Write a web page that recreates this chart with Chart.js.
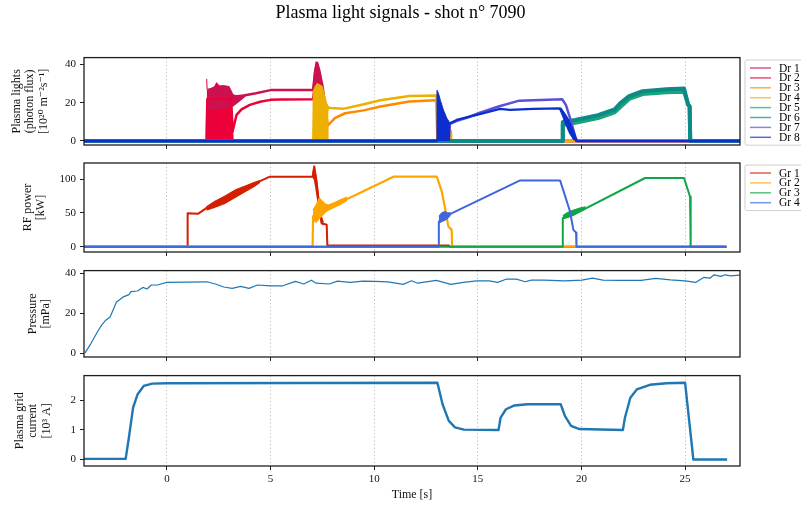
<!DOCTYPE html>
<html>
<head>
<meta charset="utf-8">
<style>
  body { margin: 0; background: #fff; }
  #wrap { position: relative; width: 801px; height: 509px; overflow: hidden; background: #fff; }
  #wrap canvas { position: absolute; left: 0; }
</style>
</head>
<body>
<div id="wrap">
  <canvas id="lightChart" width="801" height="160" style="top:0px"></canvas>
  <canvas id="rfChart" width="801" height="117" style="top:150px"></canvas>
  <canvas id="pressureChart" width="801" height="112" style="top:260px"></canvas>
  <canvas id="currentChart" width="801" height="144" style="top:365px"></canvas>
</div>
<script src="https://cdn.jsdelivr.net/npm/chart.js"></script>
<script>
// ---- axes ----
const xMin = -4.0, xMax = 27.65;
const xTicks = [0, 5, 10, 15, 20, 25];
const lightTicks = [0, 20, 40];
const rfTicks = [0, 50, 100];
const pressureTicks = [0, 20, 40];
const currentTicks = [0, 1, 2];

const drLabels = ['Dr 1', 'Dr 2', 'Dr 3', 'Dr 4', 'Dr 5', 'Dr 6', 'Dr 7', 'Dr 8'];
const drColors = ['#cc1150', '#eb0038', '#ff8800', '#ebb000', '#15a679', '#0d8a87', '#5d4fd9', '#0b2fcf'];
const grLabels = ['Gr 1', 'Gr 2', 'Gr 3', 'Gr 4'];
const grColors = ['#d41f00', '#ffa500', '#0fa645', '#4066dc'];
const blue = '#1f77b4';

// ---- plasma lights (time s, flux) ----
const dr1T = [-4.0, 1.92, 1.95, 2.4, 2.8, 3.1, 3.3, 3.7, 4.3, 5.0, 7.05, 7.15, 7.25, 7.35, 7.5, 7.65, 7.7, 27.65];
const dr1V = [0, 0, 20, 24, 25, 24, 23.3, 23.8, 25, 26.6, 26.6, 36, 40.8, 37, 29, 18, 0, 0];
const dr1BandT = [1.95, 2.3, 2.7, 3.0, 3.2, 3.5, 3.8];
const dr1BandLo = [16, 16.5, 17, 17.5, 18, 20.5, 23.3];
const dr1BandHi = [27, 28, 29, 28.5, 24, 23.6, 24];
const dr1SpikeT = [7.05, 7.12, 7.2, 7.28, 7.36, 7.45];
const dr1SpikeLo = [24, 27, 30, 30, 25, 22];
const dr1SpikeHi = [27, 37, 41.5, 40, 34, 28];

const dr2T = [-4.0, 1.92, 1.95, 3.1, 3.17, 3.36, 3.6, 4.0, 4.5, 5.0, 5.5, 7.05, 7.15, 7.3, 7.45, 7.6, 7.7, 27.65];
const dr2V = [0, 0, 22, 22, 5, 13.7, 16.5, 18.9, 20.5, 21.5, 21.7, 21.8, 30, 33, 25, 12, 0, 0];
const dr2BandT = [1.92, 1.94, 2.0, 2.15, 2.3, 2.4, 2.5, 2.65, 2.8, 2.95, 3.05, 3.1, 3.15, 3.2];
const dr2BandHi = [32.5, 27, 26, 27.5, 28.5, 30.5, 29, 28.5, 28, 27.5, 25, 20, 12, 0];

const dr3T = [-4.0, 7.05, 7.75, 7.8, 8.1, 8.6, 9.5, 10.3, 11.7, 13.0, 13.05, 27.65];
const dr3V = [0, 0, 8, 8.5, 12, 14.5, 16, 18, 20.6, 21.3, 0, 0];
const dr3BandT = [7.05, 7.08, 7.2, 7.4, 7.6, 7.75, 7.8];
const dr3BandHi = [0, 20, 23, 24, 20, 12, 8];

const dr4T = [-4.0, 7.03, 7.8, 7.9, 8.5, 9.5, 10.3, 11.7, 13.0, 13.08, 13.5, 13.7, 13.72, 27.65];
const dr4V = [0, 0, 17.5, 17.3, 16.8, 19.2, 21.3, 23.5, 23.8, 8, 5.5, 5.2, 0, 0];
const dr4BandT = [7.03, 7.06, 7.15, 7.25, 7.35, 7.5, 7.6, 7.7, 7.8];
const dr4BandHi = [0, 26, 28.5, 30, 29.5, 28.5, 24, 20, 17.5];

const dr5T = [-4.0, 19.07, 19.1, 19.7, 20.8, 21.6, 21.9, 22.3, 22.95, 24.1, 24.95, 25.15, 25.22, 25.25, 27.65];
const dr5V = [0, 0, 8.5, 9.5, 12, 15, 18, 22, 24.5, 25.5, 25.8, 19, 18, 0, 0];
const dr6T = [-4.0, 19.07, 19.1, 19.7, 20.8, 21.6, 21.9, 22.3, 22.95, 24.1, 24.95, 25.15, 25.22, 25.25, 27.65];
const dr6V = [0, 0, 10, 11, 13.5, 16.5, 20, 23.5, 26, 27, 27.4, 19, 18, 0, 0];

const dr7T = [-4.0, 13.6, 13.66, 14.0, 14.5, 15.1, 16.0, 17.0, 19.07, 19.25, 19.5, 19.72, 19.8, 27.65];
const dr7V = [0, 0, 9, 10.5, 12.3, 14.8, 18, 21.1, 21.8, 18.9, 10.2, 1.6, 0, 0];

const dr8T = [-4.0, 13.0, 13.66, 13.98, 14.95, 16.07, 16.55, 17.67, 18.95, 19.27, 19.59, 19.75, 27.65];
const dr8V = [0, 0, 9.3, 11, 13.7, 16.8, 16.3, 16.8, 17.1, 10.2, 3.3, 0, 0];
const dr8BandT = [13.0, 13.03, 13.1, 13.2, 13.35, 13.5, 13.66];
const dr8BandHi = [0, 26.5, 25, 21, 16, 12, 9.3];
const dr8FallT = [19.0, 19.2, 19.4, 19.6, 19.8];
const dr8FallLo = [15, 9, 4, 0.5, 0];
const dr8FallHi = [17.5, 14.5, 11, 6, 0];

// ---- RF power (kW) ----
const gr1T = [-4.0, 0.98, 1.0, 1.5, 1.9, 2.56, 3.52, 4.17, 4.97, 7.03, 7.11, 7.22, 7.35, 7.46, 7.71, 7.74, 13.6, 13.65, 27.0];
const gr1V = [0, 0, 49.5, 48.5, 57, 66.8, 84, 92.5, 103.5, 103.5, 118.7, 96.4, 57, 34.7, 32.5, 1.8, 1.8, 0, 0];
const gr1BandT = [1.9, 2.3, 2.8, 3.3, 3.8, 4.2, 4.5];
const gr1BandLo = [53, 57, 63, 72, 81, 88, 94];
const gr1BandHi = [59, 67, 75, 84, 90, 95, 98];
const gr1SpikeT = [7.03, 7.08, 7.15, 7.25, 7.35, 7.45, 7.55];
const gr1SpikeLo = [100, 100, 88, 68, 48, 34, 31];
const gr1SpikeHi = [104, 117, 112, 92, 68, 45, 36];

const gr2T = [-4.0, 7.03, 7.05, 7.8, 10.93, 13.02, 13.26, 13.42, 13.58, 13.74, 13.76, 27.0];
const gr2V = [0, 0, 45, 57, 103.5, 103.5, 81.6, 57, 29.7, 24.8, 0, 0];
const gr2BandT = [7.05, 7.2, 7.35, 7.5, 7.65, 7.8, 8.1, 8.4, 8.7];
const gr2BandLo = [38, 35, 40, 45, 50, 53, 57.5, 62, 67.5];
const gr2BandHi = [55, 62, 72, 68, 63, 62, 65.5, 70, 73.5];

const gr3T = [-4.0, 19.08, 19.1, 19.6, 23.07, 24.95, 25.24, 25.27, 27.0];
const gr3V = [0, 0, 42, 47, 101.5, 101.5, 74, 0, 0];
const gr3BandT = [19.1, 19.3, 19.5, 19.7, 19.9, 20.2];
const gr3BandLo = [40, 42, 44, 47, 50, 55];
const gr3BandHi = [46, 50, 53, 55, 57, 59];

const gr4T = [-4.0, 13.1, 13.12, 13.58, 17.04, 18.97, 19.45, 19.61, 19.74, 19.76, 27.0];
const gr4V = [0, 0, 37, 47, 98, 98, 52, 24.8, 21, 0, 0];
const gr4BandT = [13.12, 13.25, 13.4, 13.55, 13.7];
const gr4BandLo = [34, 36, 38, 41, 46];
const gr4BandHi = [45, 50, 52, 50, 50];

// ---- pressure (mPa) ----
const pressT = [-3.96, -3.66, -3.35, -3.15, -2.95, -2.74, -2.44, -2.13, -1.83, -1.73, -1.42, -1.16, -0.96, -0.75, -0.41, 0, 1.93, 2.34, 2.74, 3.15, 3.56, 3.96, 4.37, 4.98, 5.59, 6.2, 6.6, 6.97, 7.2, 7.83, 8.23, 8.84, 9.45, 10.06, 10.67, 11.4, 11.8, 12.1, 13.0, 13.7, 14.3, 14.94, 15.55, 15.96, 16.36, 16.87, 17.28, 17.58, 18.19, 19.2, 20.02, 20.53, 21.04, 21.85, 22.87, 23.58, 24.3, 25.0, 25.51, 25.9, 26.2, 26.4, 26.73, 26.93, 27.2, 27.65];
const pressV = [0, 4.9, 10.7, 14, 16.5, 18.1, 25.5, 28, 29.3, 30.8, 31.1, 32.9, 32.1, 34.1, 34.2, 35.4, 35.7, 34.6, 33.1, 32.4, 33.4, 32.4, 34.1, 33.7, 33.7, 35.9, 34.6, 36.5, 35, 34.6, 36, 35.4, 36, 35.9, 35.7, 34.4, 36.2, 35, 36.4, 34.4, 35.4, 36.2, 36.2, 35.4, 37, 37, 35.7, 36.5, 36.5, 36.2, 36.5, 37.5, 36.5, 36.4, 36.4, 37.4, 36.7, 36.2, 35.4, 37.9, 37.5, 39.2, 38.4, 39.2, 38.7, 39];

// ---- plasma grid current (10^3 A) ----
const currT = [-4.0, -1.99, -1.83, -1.63, -1.42, -1.12, -0.71, 0, 13.05, 13.3, 13.6, 13.9, 14.33, 16.0, 16.1, 16.36, 16.77, 17.4, 19.0, 19.2, 19.5, 19.9, 22.0, 22.1, 22.36, 22.67, 23.3, 24.1, 25.0, 25.4, 27.03];
const currV = [0.02, 0.02, 0.76, 1.76, 2.2, 2.49, 2.57, 2.58, 2.6, 1.87, 1.31, 1.09, 1.01, 1.0, 1.42, 1.7, 1.83, 1.87, 1.87, 1.48, 1.14, 1.03, 1.0, 1.42, 2.09, 2.37, 2.53, 2.58, 2.6, 0, 0];

const serif = "'Liberation Serif', 'DejaVu Serif', serif";
const tickFont = {family: serif, size: 11};
const labelFont = {family: serif, size: 12, lineHeight: 1.12};

function pts(t, v) {
    return t.map((x, i) => ({x: x, y: v[i]}));
}

// lower order = drawn on top
function line(color, t, v, width, order) {
    return {data: pts(t, v), borderColor: color, backgroundColor: color, borderWidth: width,
        pointRadius: 0, tension: 0, fill: false, order: order, borderJoinStyle: 'round'};
}

function bandFromZero(color, t, hi, order) {
    return {data: pts(t, hi), borderColor: color, backgroundColor: color, borderWidth: 1,
        pointRadius: 0, tension: 0, fill: 'origin', order: order};
}

function band(color, t, lo, hi, order) {
    return [
        {data: pts(t, lo), borderColor: color, borderWidth: 0, pointRadius: 0, fill: false, order: order},
        {data: pts(t, hi), borderColor: color, backgroundColor: color, borderWidth: 1,
            pointRadius: 0, fill: '-1', order: order}
    ];
}

const frame = {
    id: 'frame',
    afterDatasetsDraw(chart) {
        const {ctx, chartArea: a} = chart;
        ctx.save();
        ctx.strokeStyle = '#1e1e1e';
        ctx.lineWidth = 1.3;
        ctx.strokeRect(a.left, a.top, a.right - a.left, a.bottom - a.top);
        ctx.restore();
    }
};

function boxLegend(labels, colors, top) {
    return {
        id: 'boxLegend',
        afterDraw(chart) {
            const ctx = chart.ctx;
            const x = 745, rowH = 9.9, w = 70;
            const h = labels.length * rowH + 6;
            ctx.save();
            ctx.beginPath();
            ctx.moveTo(x + 2, top);
            ctx.arcTo(x + w, top, x + w, top + h, 2);
            ctx.arcTo(x + w, top + h, x, top + h, 2);
            ctx.arcTo(x, top + h, x, top, 2);
            ctx.arcTo(x, top, x + w, top, 2);
            ctx.closePath();
            ctx.fillStyle = 'rgba(255,255,255,0.8)';
            ctx.fill();
            ctx.strokeStyle = '#cfcfcf';
            ctx.lineWidth = 1;
            ctx.stroke();
            ctx.font = '11.5px ' + serif;
            ctx.textBaseline = 'middle';
            labels.forEach((lab, i) => {
                const cy = top + 8 + i * rowH;
                ctx.globalAlpha = 0.7;
                ctx.strokeStyle = colors[i];
                ctx.lineWidth = 1.5;
                ctx.beginPath();
                ctx.moveTo(x + 5, cy);
                ctx.lineTo(x + 26, cy);
                ctx.stroke();
                ctx.globalAlpha = 1;
                ctx.fillStyle = '#000';
                ctx.fillText(lab, x + 34, cy + 0.5);
            });
            ctx.restore();
        }
    };
}

function panelOptions(cfg) {
    return {
        responsive: false,
        animation: false,
        layout: {padding: {top: cfg.padTop, left: 0, right: 0, bottom: 0}},
        plugins: {
            legend: {display: false},
            tooltip: {enabled: false},
            title: cfg.title || {display: false}
        },
        scales: {
            x: {
                type: 'linear', min: xMin, max: xMax,
                afterBuildTicks: s => { s.ticks = xTicks.map(v => ({value: v})); },
                afterFit: s => { s.height = cfg.xHeight; },
                ticks: {display: cfg.xLabels, padding: 3, font: tickFont, color: '#111', maxRotation: 0, autoSkip: false},
                grid: {color: '#b5b5b5', lineWidth: 0.9, tickColor: '#222', tickLength: 4, tickWidth: 1},
                border: {display: false, dash: [1.2, 2.4]},
                title: cfg.xTitle || {display: false}
            },
            y: {
                type: 'linear', min: cfg.yMin, max: cfg.yMax,
                afterBuildTicks: s => { s.ticks = cfg.yTicks.map(v => ({value: v})); },
                afterFit: s => { s.width = 84; },
                ticks: {padding: 4, font: tickFont, color: '#111'},
                grid: {drawOnChartArea: false, tickColor: '#222', tickLength: 4, tickWidth: 1},
                border: {display: false},
                title: {display: true, text: cfg.yTitle, font: labelFont, color: '#111', padding: {top: cfg.yTitlePad, bottom: 0}}
            },
            pad: {
                type: 'linear', position: 'right', display: true,
                afterFit: s => { s.width = 61; },
                ticks: {display: false},
                grid: {display: false},
                border: {display: false}
            }
        }
    };
}

// ---- panel 1: plasma lights ----
const lightSets = [
    bandFromZero(drColors[1], dr2BandT, dr2BandHi, 60),
    ...band(drColors[0], dr1BandT, dr1BandLo, dr1BandHi, 58),
    line(drColors[0], dr1T, dr1V, 2.5, 57),
    line(drColors[1], dr2T, dr2V, 2.5, 56),
    ...band(drColors[0], dr1SpikeT, dr1SpikeLo, dr1SpikeHi, 55),
    bandFromZero(drColors[2], dr3BandT, dr3BandHi, 50),
    line(drColors[2], dr3T, dr3V, 2.5, 49),
    bandFromZero(drColors[3], dr4BandT, dr4BandHi, 48),
    line(drColors[3], dr4T, dr4V, 2.5, 47),
    line(drColors[4], dr5T, dr5V, 4, 40),
    line(drColors[5], dr6T, dr6V, 4, 39),
    line(drColors[6], dr7T, dr7V, 2.5, 30),
    bandFromZero(drColors[7], dr8BandT, dr8BandHi, 22),
    line(drColors[7], dr8T, dr8V, 2.3, 21),
    ...band(drColors[7], dr8FallT, dr8FallLo, dr8FallHi, 20)
];

new Chart(document.getElementById('lightChart'), {
    type: 'line',
    data: {datasets: lightSets},
    options: panelOptions({
        padTop: 0, xHeight: 15, xLabels: false,
        yMin: -2.1, yMax: 43.6, yTicks: lightTicks,
        yTitle: ['Plasma lights', '(photon flux)', '[10²⁰ m⁻²s⁻¹]'], yTitlePad: 10,
        title: {display: true, text: 'Plasma light signals - shot n° 7090', color: '#000',
            font: {family: serif, size: 18, weight: 'normal'}, padding: {top: 2, bottom: 34}}
    }),
    plugins: [frame, boxLegend(drLabels, drColors, 60)]
});

// ---- panel 2: RF power ----
const rfSets = [
    ...band(grColors[0], gr1BandT, gr1BandLo, gr1BandHi, 60),
    line(grColors[0], gr1T, gr1V, 2, 59),
    ...band(grColors[0], gr1SpikeT, gr1SpikeLo, gr1SpikeHi, 58),
    ...band(grColors[1], gr2BandT, gr2BandLo, gr2BandHi, 50),
    line(grColors[1], gr2T, gr2V, 2.2, 49),
    ...band(grColors[2], gr3BandT, gr3BandLo, gr3BandHi, 40),
    line(grColors[2], gr3T, gr3V, 2, 39),
    ...band(grColors[3], gr4BandT, gr4BandLo, gr4BandHi, 30),
    line(grColors[3], gr4T, gr4V, 2, 29)
];

new Chart(document.getElementById('rfChart'), {
    type: 'line',
    data: {datasets: rfSets},
    options: panelOptions({
        padTop: 13, xHeight: 15, xLabels: false,
        yMin: -7.9, yMax: 123.7, yTicks: rfTicks,
        yTitle: ['RF power', '[kW]'], yTitlePad: 21
    }),
    plugins: [frame, boxLegend(grLabels, grColors, 15)]
});

// ---- panel 3: pressure ----
new Chart(document.getElementById('pressureChart'), {
    type: 'line',
    data: {datasets: [line(blue, pressT, pressV, 1.2, 1)]},
    options: panelOptions({
        padTop: 8, xHeight: 15, xLabels: false,
        yMin: -1.95, yMax: 41.3, yTicks: pressureTicks,
        yTitle: ['Pressure', '[mPa]'], yTitlePad: 26
    }),
    plugins: [frame]
});

// ---- panel 4: plasma grid current ----
new Chart(document.getElementById('currentChart'), {
    type: 'line',
    data: {datasets: [line(blue, currT, currV, 2.4, 1)]},
    options: panelOptions({
        padTop: 10, xHeight: 43, xLabels: true,
        yMin: -0.22, yMax: 2.84, yTicks: currentTicks,
        yTitle: ['Plasma grid', 'current', '[10³ A]'], yTitlePad: 13,
        xTitle: {display: true, text: 'Time [s]', color: '#111', font: {family: serif, size: 12},
            padding: {top: 0, bottom: 7}}
    }),
    plugins: [frame]
});
</script>
</body>
</html>
